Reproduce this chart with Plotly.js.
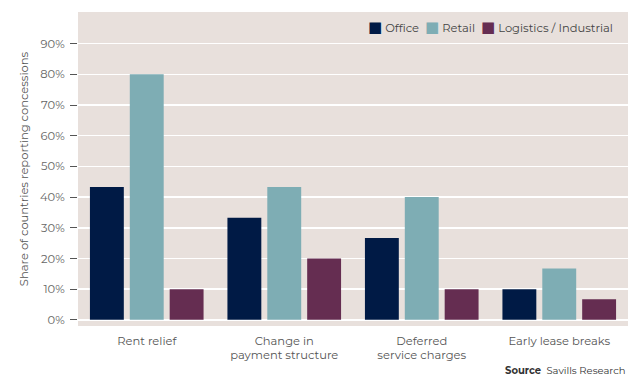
<!DOCTYPE html>
<html><head><meta charset="utf-8">
<script src="https://cdn.plot.ly/plotly-3.0.1.min.js"></script>
<style>html,body{margin:0;padding:0;background:#fff}#chart{width:633px;height:383px}</style>
</head><body><div id="chart"></div>
<script>
const categories = ["Rent relief", "Change in<br>payment structure", "Deferred<br>service charges", "Early lease breaks"];
const seriesNames = ["Office", "Retail", "Logistics / Industrial"];
const office = [43.3, 33.3, 26.7, 10];
const retail = [80, 43.3, 40, 16.7];
const logistics = [10, 20, 10, 6.7];
const tickVals = [0,10,20,30,40,50,60,70,80,90];
const tickText = tickVals.map(v => v + "%");
const colors = ["#001a45", "#7eadb4", "#652d51"];

const font = "Montserrat, 'DejaVu Sans', 'Open Sans', sans-serif";
const mk = (i, y) => ({type:"bar", name:seriesNames[i], x:categories, y, marker:{color:colors[i], line:{width:0}}, hoverinfo:"skip", showlegend:false});
const data = [mk(0, office), mk(1, retail), mk(2, logistics)];

const legendText = seriesNames.map((n,i) => `<span style="color:${colors[i]};font-family:'DejaVu Sans';font-size:15px">■</span> ${n}`).join("  ");

const layout = {
  width:633, height:383,
  margin:{l:78, r:5, t:12, b:57},
  paper_bgcolor:"#ffffff", plot_bgcolor:"#e8e0dc",
  font:{family:font, size:11, color:"#555"},
  barmode:"group", bargap:0.13, bargroupgap:0.15,
  xaxis:{showgrid:false, zeroline:false, ticks:"", tickfont:{size:11.5, color:"#555"}, ticklabelstandoff:6, fixedrange:true},
  yaxis:{range:[-2,100.3], tickvals:tickVals, ticktext:tickText, showgrid:true, gridcolor:"#ffffff", gridwidth:1.5, zeroline:false,
    ticks:"outside", ticklen:7, tickcolor:"#555", tickwidth:1, ticklabelstandoff:3, tickfont:{size:11.5, color:"#666"},
    title:{text:"Share of countries reporting concessions", font:{size:11.5, color:"#555"}, standoff:8}},
  annotations:[
    {text:legendText, xref:"paper", yref:"paper", x:0.976, y:(326-27)/314, xanchor:"right", yanchor:"middle", showarrow:false, font:{size:11.5, color:"#444"}},
    {text:"<b>Source</b>  Savills Research", xref:"paper", yref:"paper", x:1, y:-(370-326)/314, xanchor:"right", yanchor:"middle", showarrow:false, font:{size:10, color:"#333"}}
  ]
};
Plotly.newPlot("chart", data, layout, {displayModeBar:false, staticPlot:true});
</script></body></html>
